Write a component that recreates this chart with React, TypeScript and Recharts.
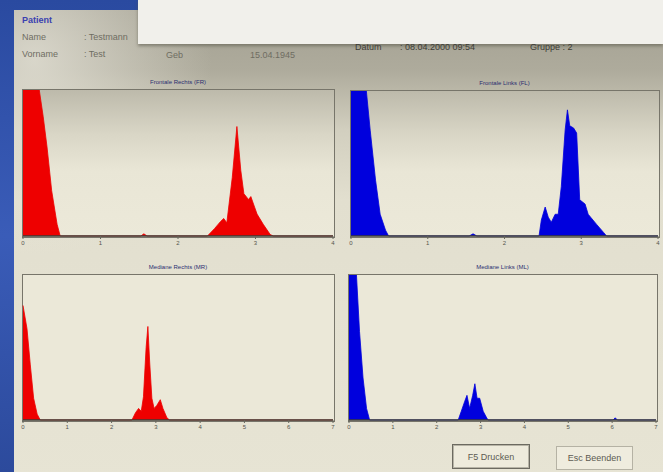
import { AreaChart, Area, XAxis, YAxis } from "recharts";

// Frontale Rechts (FR)
const frX = [0, 0.21, 0.26, 0.31, 0.37, 0.44, 0.48, 1.52, 1.56, 1.6, 2.38, 2.47, 2.55, 2.59, 2.63, 2.7, 2.76, 2.81, 2.85, 2.91, 2.94, 3.02, 3.1, 3.19, 3.23, 4];
const frY = [1, 1, 0.82, 0.61, 0.31, 0.08, 0, 0, 0.015, 0, 0, 0.05, 0.1, 0.12, 0.09, 0.4, 0.75, 0.45, 0.29, 0.25, 0.27, 0.15, 0.08, 0.01, 0, 0];

// Frontale Links (FL)
const flX = [0, 0.2, 0.25, 0.32, 0.38, 0.45, 0.49, 1.54, 1.59, 1.64, 2.45, 2.48, 2.53, 2.57, 2.61, 2.66, 2.7, 2.74, 2.79, 2.82, 2.85, 2.9, 2.94, 2.98, 3.05, 3.09, 3.2, 3.29, 3.33, 4];
const flY = [1, 1, 0.73, 0.385, 0.15, 0.04, 0, 0, 0.015, 0, 0, 0.11, 0.2, 0.13, 0.095, 0.15, 0.15, 0.34, 0.73, 0.87, 0.76, 0.745, 0.71, 0.25, 0.22, 0.15, 0.08, 0.025, 0, 0];

// Mediane Rechts (MR)
const mrX = [0, 0.09, 0.165, 0.24, 0.32, 0.39, 2.46, 2.54, 2.61, 2.67, 2.72, 2.78, 2.82, 2.86, 2.91, 2.96, 3.02, 3.1, 3.16, 3.25, 3.31, 7];
const mrY = [0.79, 0.63, 0.38, 0.15, 0.04, 0, 0, 0.05, 0.08, 0.06, 0.16, 0.5, 0.645, 0.4, 0.15, 0.08, 0.1, 0.14, 0.08, 0.015, 0, 0];

// Mediane Links (ML)
const mlX = [0, 0.17, 0.24, 0.32, 0.4, 0.47, 2.49, 2.56, 2.64, 2.69, 2.75, 2.82, 2.87, 2.92, 2.98, 3.06, 3.13, 3.17, 6.02, 6.07, 6.12, 7];
const mlY = [1, 1, 0.61, 0.29, 0.08, 0, 0, 0.06, 0.13, 0.17, 0.08, 0.17, 0.25, 0.15, 0.15, 0.06, 0.02, 0, 0, 0.015, 0, 0];

const frontTicks = [0, 1, 2, 3, 4];
const medianTicks = [0, 1, 2, 3, 4, 5, 6, 7];

const toRows = (xs: number[], ys: number[]) => xs.map((x, i) => ({ x, y: ys[i] }));

const RED = "#ee0000";
const BLUE = "#0000dd";
const FONT = "'Liberation Sans', Arial, sans-serif";

type PanelProps = {
  x: number;
  y: number;
  w: number;
  h: number;
  title: string;
  rows: { x: number; y: number }[];
  ticks: number[];
  color: string;
  bg: string;
};

function Panel({ x, y, w, h, title, rows, ticks, color, bg }: PanelProps) {
  const pad = 6;
  return (
    <>
      <div
        style={{
          position: "absolute",
          left: x,
          top: y - 11,
          width: w,
          textAlign: "center",
          fontSize: 6,
          color: "#2b2f70",
          fontFamily: FONT,
        }}
      >
        {title}
      </div>
      <div
        style={{
          position: "absolute",
          left: x - 1,
          top: y - 1,
          width: w + 1,
          height: h + 1,
          border: "1px solid #77756a",
          background: bg,
        }}
      />
      <div style={{ position: "absolute", left: x - pad, top: y }}>
        <AreaChart
          width={w + pad * 2}
          height={h + 14}
          data={rows}
          margin={{ top: 0, right: pad, left: pad, bottom: 0 }}
        >
          <XAxis
            dataKey="x"
            type="number"
            domain={[0, ticks[ticks.length - 1]]}
            ticks={ticks}
            interval={0}
            height={14}
            tickSize={3}
            tick={{ fontSize: 6, fill: "#55554d", fontFamily: FONT }}
            tickLine={{ stroke: "#66665c" }}
            axisLine={{ stroke: "#3c3c36", strokeWidth: 1.5 }}
          />
          <YAxis hide domain={[0, 1]} />
          <Area
            type="linear"
            dataKey="y"
            stroke={color}
            strokeWidth={0.8}
            fill={color}
            fillOpacity={1}
            dot={false}
            activeDot={false}
            isAnimationActive={false}
          />
        </AreaChart>
      </div>
    </>
  );
}

const label = (left: number, top: number, text: string, extra: object = {}) => (
  <div
    style={{
      position: "absolute",
      left,
      top,
      fontSize: 9,
      color: "#6f6d62",
      fontFamily: FONT,
      whiteSpace: "nowrap",
      ...extra,
    }}
  >
    {text}
  </div>
);

export default function App() {
  const topBg = "linear-gradient(to bottom, #bdbaab 0%, #d9d6c6 30%, #e9e6d6 55%, #ece9d9 100%)";
  const botBg = "#ebe8d8";
  const dark = { color: "#3e3d36" };
  return (
    <div
      style={{
        position: "absolute",
        left: 0,
        top: 0,
        width: 663,
        height: 472,
        overflow: "hidden",
        background: "linear-gradient(to bottom, #2a4aa0, #3a5cb8 50%, #2c4a9c)",
      }}
    >
      {/* window body */}
      <div
        style={{
          position: "absolute",
          left: 14,
          top: 10,
          width: 660,
          height: 470,
          background:
            "linear-gradient(to bottom, #a3a092 0px, #aeab9c 60px, #d2cfbf 120px, #e2dfcf 190px, #e7e4d4 472px)",
        }}
      />
      <div
        style={{
          position: "absolute",
          left: 14,
          top: 10,
          width: 200,
          height: 250,
          background: "radial-gradient(ellipse at 10% 20%, rgba(235,233,222,0.7), rgba(235,233,222,0) 70%)",
        }}
      />
      {/* white overlay at the top */}
      <div
        style={{
          position: "absolute",
          left: 138,
          top: 0,
          width: 525,
          height: 44,
          background: "#f1f0eb",
          boxShadow: "0 2px 3px rgba(90,88,75,0.6)",
        }}
      />

      {label(22, 15, "Patient", { color: "#3a3fb0", fontWeight: "bold" })}
      {label(22, 32, "Name")}
      {label(84, 32, ": Testmann")}
      {label(22, 49, "Vorname")}
      {label(84, 49, ": Test")}
      {label(166, 50, "Geb")}
      {label(250, 50, "15.04.1945")}
      {label(355, 42, "Datum", dark)}
      {label(400, 42, ": 08.04.2000 09:54", dark)}
      {label(530, 42, "Gruppe : 2", dark)}

      <Panel x={23} y={90} w={310} h={146} title="Frontale Rechts (FR)" rows={toRows(frX, frY)} ticks={frontTicks} color={RED} bg={topBg} />
      <Panel x={351} y={91} w={307} h={145} title="Frontale Links (FL)" rows={toRows(flX, flY)} ticks={frontTicks} color={BLUE} bg={topBg} />
      <Panel x={23} y={275} w={310} h={145} title="Mediane Rechts (MR)" rows={toRows(mrX, mrY)} ticks={medianTicks} color={RED} bg={botBg} />
      <Panel x={349} y={275} w={307} h={145} title="Mediane Links (ML)" rows={toRows(mlX, mlY)} ticks={medianTicks} color={BLUE} bg={botBg} />

      {/* buttons */}
      <div
        style={{
          position: "absolute",
          left: 452,
          top: 444,
          width: 76,
          height: 23,
          border: "1px solid #6c6a60",
          boxShadow: "inset 0 0 0 1px #b7b4a6",
          background: "#eeebdc",
          fontSize: 9,
          color: "#5d5b52",
          fontFamily: FONT,
          display: "flex",
          alignItems: "center",
          justifyContent: "center",
        }}
      >
        F5 Drucken
      </div>
      <div
        style={{
          position: "absolute",
          left: 556,
          top: 446,
          width: 75,
          height: 22,
          border: "1px solid #b5b2a4",
          background: "#efecde",
          fontSize: 9,
          color: "#5d5b52",
          fontFamily: FONT,
          display: "flex",
          alignItems: "center",
          justifyContent: "center",
        }}
      >
        Esc Beenden
      </div>
    </div>
  );
}
